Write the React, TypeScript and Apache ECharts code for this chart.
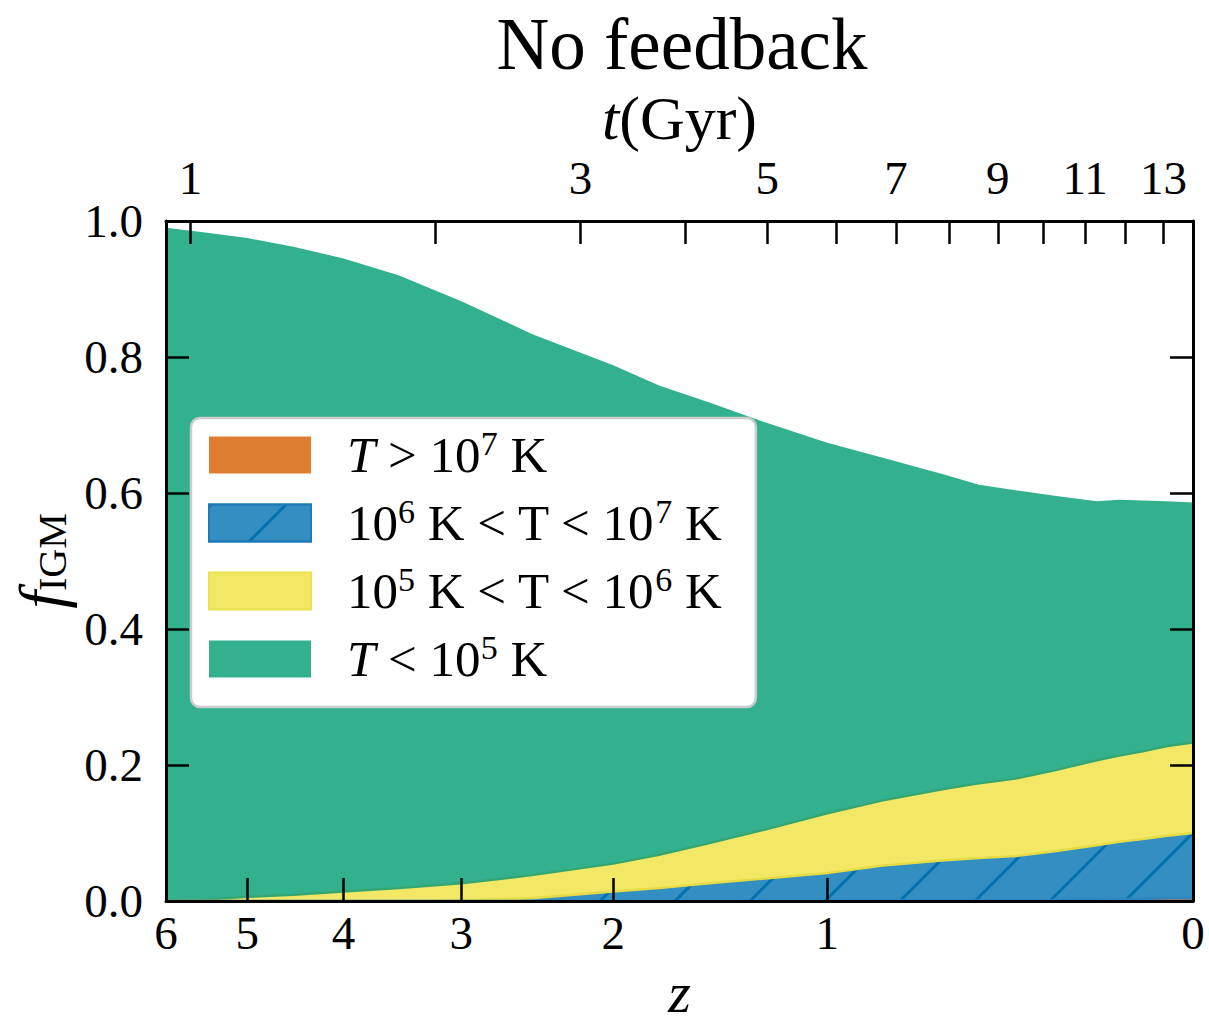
import React, { useEffect, useRef } from 'react';
import * as echarts from 'echarts';

// ---- data ----
const redshift = [6, 5.5, 5, 4.5, 4, 3.5, 3, 2.5, 2, 1.75, 1.5, 1.25, 1, 0.8, 0.6, 0.5, 0.4, 0.3, 0.2, 0.15, 0.1, 0.05, 0];
// T > 1e7 K
const fHot = [0, 0, 0, 0, 0, 0, 0, 0, 0, 0, 0, 0, 0.0005, 0.001, 0.001, 0.001, 0.001, 0.001, 0.002, 0.003, 0.003, 0.004, 0.004];
// 1e6 K < T < 1e7 K
const fWarmHot = [0, 0, 0, 0, 0, 0, 0.001, 0.004, 0.014, 0.019, 0.026, 0.033, 0.0405, 0.051, 0.059, 0.062, 0.065, 0.072, 0.08, 0.084, 0.088, 0.092, 0.096];
// 1e5 K < T < 1e6 K
const fWarm = [0, 0.002, 0.006, 0.009, 0.014, 0.019, 0.025, 0.034, 0.041, 0.049, 0.059, 0.072, 0.088, 0.096, 0.105, 0.11, 0.114, 0.119, 0.125, 0.127, 0.129, 0.132, 0.133];
// T < 1e5 K
const fCool = [0.99, 0.981, 0.969, 0.953, 0.931, 0.901, 0.856, 0.796, 0.733, 0.69, 0.648, 0.599, 0.545, 0.504, 0.462, 0.439, 0.424, 0.404, 0.381, 0.376, 0.369, 0.36, 0.353];

const zTicks = [6, 5, 4, 3, 2, 1, 0];
const tTicks = [1, 2, 3, 4, 5, 6, 7, 8, 9, 10, 11, 12, 13];
const tLabels = [1, 3, 5, 7, 9, 11, 13];

const seriesNames = ['T > 10^7 K', '10^6 K < T < 10^7 K', '10^5 K < T < 10^6 K', 'T < 10^5 K'];
const seriesColors = ['#dd7e33', '#338ec1', '#f2e866', '#33b18f'];

// ---- helpers ----
const FONT = "'Liberation Serif', 'Times New Roman', serif";
const XMAX = Math.log10(1 + 6);
const toX = (z: number) => Math.log10(1 + z);
// flat LCDM (H0 = 67.7, Om = 0.31): age t [Gyr] -> log10(1+z)
const HUBBLE_TIME = 977.8 / 67.7;
const OM = 0.31;
const OL = 0.69;
const ageToX = (t: number) => {
  const k = (1.5 * Math.sqrt(OL)) / HUBBLE_TIME;
  const a32 = Math.sinh(k * t) / Math.sqrt(OL / OM);
  return Math.log10(Math.pow(a32, -2 / 3));
};

const legendRich: Record<string, string> = {
  [seriesNames[0]]: '{sp| }{it|T}{n| > 10}{sup|7}{n| K}',
  [seriesNames[1]]: '{sp| }{n|10}{sup|6}{n| K < T < 10}{sup|7}{n| K}',
  [seriesNames[2]]: '{sp| }{n|10}{sup|5}{n| K < T < 10}{sup|6}{n| K}',
  [seriesNames[3]]: '{sp| }{it|T}{n| < 10}{sup|5}{n| K}',
};

export default function App() {
  const ref = useRef<HTMLDivElement>(null);
  useEffect(() => {
    if (!ref.current) return;
    const chart = echarts.init(ref.current, undefined, { renderer: 'svg' });
    const components = [fHot, fWarmHot, fWarm, fCool];
    // cumulative tops (stackplot), built from the component fractions
    const cumulative = components.map((_, i) =>
      redshift.map((_, j) => components.slice(0, i + 1).reduce((s, arr) => s + arr[j], 0))
    );
    const edgeColors = ['#2f84bd', '#e4db45', '#36a671', '#33b18f'];
    const zs = [5, 4, 3, 2];
    const tickStyle = { color: '#000', width: 2.5 };
    const lineStyle = { color: '#000', width: 3 };
    const series = cumulative.map((arr, i) => ({
      name: seriesNames[i],
      type: 'line',
      xAxisIndex: 0,
      yAxisIndex: 0,
      z: zs[i],
      symbol: 'none',
      showSymbol: false,
      smooth: false,
      data: redshift.map((z, j) => [toX(z), arr[j]]),
      itemStyle: {
        color: seriesColors[i],
        ...(i === 1
          ? {
              decal: {
                symbol: 'rect',
                symbolSize: 1,
                color: 'rgba(0, 110, 175, 0.95)',
                dashArrayX: [1, 0],
                dashArrayY: [2.5, 50],
                rotation: -Math.PI / 4,
              },
            }
          : {}),
      },
      lineStyle: { color: edgeColors[i], width: i === 3 ? 0 : 2.4 },
      areaStyle: { color: seriesColors[i], opacity: 1, origin: 'start' },
      emphasis: { disabled: true },
    }));

    const option: any = {
      animation: false,
      title: {
        text: 'No feedback',
        left: 677,
        top: 3,
        textAlign: 'center',
        textStyle: { fontFamily: FONT, fontSize: 73, fontWeight: 'normal', color: '#000' },
      },
      grid: { left: 166, right: 16, top: 221, bottom: 129, outerBoundsMode: 'none', containLabel: false },
      xAxis: [
        {
          type: 'value',
          position: 'bottom',
          min: 0,
          max: XMAX,
          inverse: true,
          z: 10,
          splitLine: { show: false },
          axisLine: { show: true, onZero: false, lineStyle },
          axisTick: { show: true, inside: true, length: 23, lineStyle: tickStyle, customValues: zTicks.map(toX) },
          axisLabel: {
            customValues: zTicks.map(toX),
            formatter: (v: number) => String(Math.round(Math.pow(10, v) - 1)),
            margin: 8,
            fontFamily: FONT,
            fontSize: 47,
            color: '#000',
          },
          name: 'z',
          nameLocation: 'middle',
          nameGap: 62,
          nameTextStyle: { fontFamily: FONT, fontSize: 58, fontStyle: 'italic', color: '#000' },
        },
        {
          type: 'value',
          position: 'top',
          min: 0,
          max: XMAX,
          inverse: true,
          z: 10,
          splitLine: { show: false },
          axisLine: { show: true, onZero: false, lineStyle },
          axisTick: { show: true, inside: true, length: 23, lineStyle: tickStyle, customValues: tTicks.map(ageToX) },
          axisLabel: {
            customValues: tLabels.map(ageToX),
            formatter: (v: number) => {
              let best = tLabels[0];
              let d = Infinity;
              tLabels.forEach((t) => {
                const dd = Math.abs(ageToX(t) - v);
                if (dd < d) {
                  d = dd;
                  best = t;
                }
              });
              return String(best);
            },
            margin: 20,
            fontFamily: FONT,
            fontSize: 47,
            color: '#000',
          },
          name: '{it|t}{n|(Gyr)}',
          nameLocation: 'middle',
          nameGap: 60,
          nameTextStyle: {
            fontFamily: FONT,
            fontSize: 62,
            color: '#000',
            rich: {
              it: { fontFamily: FONT, fontSize: 62, fontStyle: 'italic', color: '#000' },
              n: { fontFamily: FONT, fontSize: 62, color: '#000' },
            },
          },
        },
      ],
      yAxis: [
        {
          type: 'value',
          position: 'left',
          min: 0,
          max: 1,
          interval: 0.2,
          z: 10,
          splitLine: { show: false },
          axisLine: { show: true, onZero: false, lineStyle },
          axisTick: { show: true, inside: true, length: 23, lineStyle: tickStyle },
          axisLabel: {
            formatter: (v: number) => v.toFixed(1),
            margin: 23,
            fontFamily: FONT,
            fontSize: 47,
            color: '#000',
          },
          name: '{it|f}{sub|IGM}',
          nameLocation: 'middle',
          nameRotate: 90,
          nameGap: 90,
          nameTextStyle: {
            fontFamily: FONT,
            fontSize: 58,
            color: '#000',
            rich: {
              it: { fontFamily: FONT, fontSize: 64, fontStyle: 'italic', color: '#000', lineHeight: 70 },
              sub: { fontFamily: FONT, fontSize: 40, color: '#000', padding: [22, 0, 0, 0], lineHeight: 70 },
            },
          },
        },
        {
          type: 'value',
          position: 'right',
          min: 0,
          max: 1,
          interval: 0.2,
          z: 10,
          splitLine: { show: false },
          axisLine: { show: true, onZero: false, lineStyle },
          axisTick: { show: true, inside: true, length: 23, lineStyle: tickStyle },
          axisLabel: { show: false },
        },
      ],
      legend: {
        orient: 'vertical',
        left: 191,
        top: 418,
        z: 20,
        selectedMode: false,
        padding: [8, 34, 19, 17],
        itemWidth: 102,
        itemHeight: 37,
        itemGap: 10,
        backgroundColor: '#ffffff',
        borderColor: '#cccccc',
        borderWidth: 2.5,
        borderRadius: 9,
        data: seriesNames.map((name, i) => ({
          name,
          icon: 'rect',
          itemStyle: {
            color: seriesColors[i],
            borderColor: i === 1 ? '#1f7ab8' : i === 2 ? '#ece250' : seriesColors[i],
            borderWidth: i === 1 || i === 2 ? 2 : 0,
          },
        })),
        formatter: (name: string) => legendRich[name] || name,
        textStyle: {
          fontFamily: FONT,
          fontSize: 51,
          color: '#000',
          lineHeight: 56,
          rich: {
            sp: { width: 31, fontSize: 10, lineHeight: 56 },
            n: { fontFamily: FONT, fontSize: 51, color: '#000', lineHeight: 56 },
            it: { fontFamily: FONT, fontSize: 51, fontStyle: 'italic', color: '#000', lineHeight: 56 },
            sup: { fontFamily: FONT, fontSize: 34, color: '#000', lineHeight: 56, padding: [0, 0, 24, 0] },
          },
        },
      },
      series,
    };
    chart.setOption(option);
    return () => chart.dispose();
  }, []);
  return (
    <div
      ref={ref}
      style={{ position: 'absolute', left: 0, top: 0, width: 1209, height: 1030, background: '#fff' }}
    />
  );
}
